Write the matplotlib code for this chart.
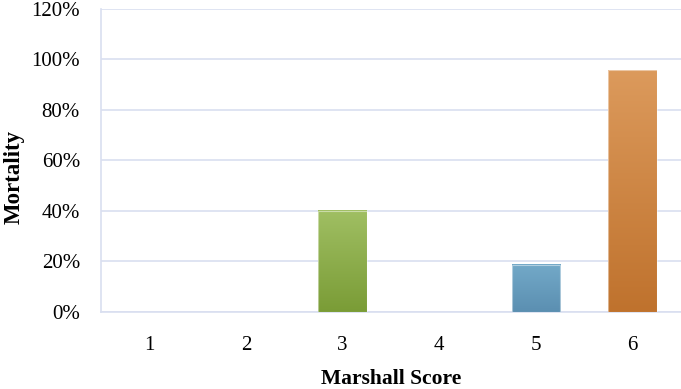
import numpy as np
import matplotlib
matplotlib.use("Agg")
import matplotlib.pyplot as plt
from matplotlib.colors import LinearSegmentedColormap

# data
scores = ["1", "2", "3", "4", "5", "6"]
mortality = [0, 0, 40, 0, 18.8, 95.8]
# gradient colours per bar (top, bottom); None for empty bars
bar_colors = [None, None, ("#a0bf63", "#7a9c36"), None, ("#73a9c8", "#5b8fb1"), ("#dc9a5c", "#bf722d")]

plt.rcParams["font.family"] = ["Liberation Serif", "DejaVu Serif"]
grid_c = "#d9dff0"

fig = plt.figure(figsize=(6.81, 3.89), dpi=100)
ax = fig.add_axes([0.148, 0.198, 0.852, 0.779])
x = np.arange(len(scores))
width = 0.5
ax.set_xlim(-0.5, len(scores) - 0.5)
ax.set_ylim(0, 120)

bars = ax.bar(x, mortality, width=width, color="none", edgecolor="none", zorder=3)
for b, cols in zip(bars, bar_colors):
    if cols is None or b.get_height() <= 0:
        continue
    cmap = LinearSegmentedColormap.from_list("g", [cols[1], cols[0]])
    grad = np.linspace(0, 1, 256).reshape(-1, 1)
    x0, y0, w, h = b.get_x(), b.get_y(), b.get_width(), b.get_height()
    ax.imshow(grad, cmap=cmap, extent=[x0, x0 + w, y0, y0 + h], origin="lower",
              aspect="auto", zorder=3)
    ax.add_patch(plt.Rectangle((x0, y0), w, h, fill=False, edgecolor=(1, 1, 1, 0.45), lw=0.8, zorder=4))
ax.set_aspect("auto")

ax.set_yticks(np.arange(0, 121, 20))
ax.set_yticklabels([f"{v}%" for v in range(0, 121, 20)], fontsize=15)
ax.set_xticks(x)
ax.set_xticklabels(scores, fontsize=15)
ax.tick_params(axis="both", length=0)
ax.tick_params(axis="y", pad=15)
ax.tick_params(axis="x", pad=17)
ax.grid(axis="y", color=grid_c, lw=1.2, zorder=0)
ax.set_axisbelow(True)
for s in ["top", "right"]:
    ax.spines[s].set_visible(False)
for s in ["left", "bottom"]:
    ax.spines[s].set_color(grid_c)
    ax.spines[s].set_linewidth(1.2)

ax.set_ylabel("Mortality", fontsize=16.5, fontweight="bold")
ax.yaxis.set_label_coords(-0.131, 0.446)
ax.set_xlabel("Marshall Score", fontsize=15.5, fontweight="bold")
ax.xaxis.set_label_coords(0.5, -0.187)

fig.savefig("out.png", dpi=100)
